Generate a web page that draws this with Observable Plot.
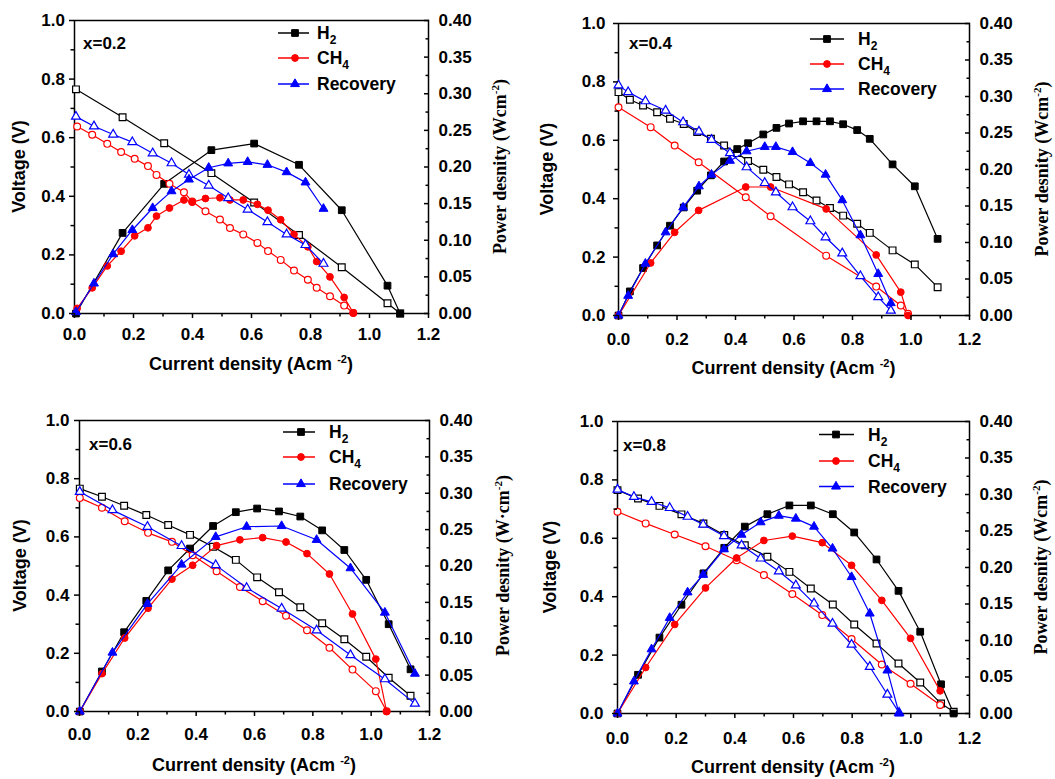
<!DOCTYPE html>
<html><head><meta charset="utf-8">
<script src="https://cdn.jsdelivr.net/npm/d3@7"></script>
<script src="https://cdn.jsdelivr.net/npm/@observablehq/plot@0.6"></script>
<style>
body{margin:0;background:#fff;}
#wrap{position:relative;width:1055px;height:779px;overflow:hidden;background:#fff;}
.panel{position:absolute;}
</style></head><body><div id="wrap"></div>
<script>
// ---------- tick values ----------
const xMajor = [0, 0.2, 0.4, 0.6, 0.8, 1.0, 1.2];
const xMinor = [0.1, 0.3, 0.5, 0.7, 0.9, 1.1];
const vMajor = [0, 0.2, 0.4, 0.6, 0.8, 1.0];
const vMinor = [0.1, 0.3, 0.5, 0.7, 0.9];
const pMajor = [0, 0.05, 0.10, 0.15, 0.20, 0.25, 0.30, 0.35, 0.40];
const pMinor = [0.025, 0.075, 0.125, 0.175, 0.225, 0.275, 0.325, 0.375];
const PMAX = 0.40;

const panelLabels = ["x=0.2", "x=0.4", "x=0.6", "x=0.8"];
const seriesNames = ["H2", "CH4", "Recovery"];

// ---------- panel 1 (x=0.2) ----------
const p1_H2_I = [0.005,0.163,0.304,0.464,0.609,0.761,0.906,1.061,1.104];
const p1_H2_V = [0.765,0.670,0.581,0.479,0.379,0.268,0.158,0.035,0.000];
const p1_H2_P = [0.000,0.110,0.177,0.223,0.232,0.203,0.141,0.038,0.000];
const p1_CH4_I = [0.009,0.060,0.111,0.158,0.204,0.249,0.278,0.322,0.371,0.399,0.444,0.493,0.527,0.572,0.620,0.656,0.699,0.744,0.791,0.821,0.866,0.914,0.945];
const p1_CH4_V = [0.638,0.610,0.579,0.551,0.528,0.503,0.473,0.443,0.414,0.382,0.349,0.321,0.292,0.270,0.241,0.213,0.183,0.147,0.115,0.088,0.059,0.027,0.002];
const p1_CH4_P = [0.007,0.035,0.065,0.085,0.106,0.117,0.133,0.144,0.155,0.152,0.157,0.158,0.155,0.155,0.149,0.141,0.128,0.108,0.091,0.071,0.050,0.022,0.001];
const p1_Rec_I = [0.005,0.066,0.131,0.196,0.265,0.329,0.388,0.455,0.521,0.587,0.654,0.719,0.783,0.844];
const p1_Rec_V = [0.672,0.639,0.611,0.585,0.547,0.513,0.474,0.437,0.394,0.355,0.312,0.270,0.234,0.170];
const p1_Rec_P = [0.002,0.041,0.081,0.114,0.144,0.167,0.183,0.199,0.205,0.207,0.203,0.193,0.179,0.143];

// ---------- panel 2 (x=0.4) ----------
const p2_H2_I = [0,0.039,0.084,0.132,0.176,0.223,0.269,0.316,0.361,0.406,0.443,0.495,0.540,0.583,0.631,0.677,0.723,0.768,0.816,0.859,0.937,1.013,1.091];
const p2_H2_V = [0.765,0.739,0.719,0.696,0.674,0.656,0.628,0.605,0.582,0.556,0.529,0.499,0.474,0.449,0.422,0.394,0.368,0.342,0.314,0.283,0.223,0.175,0.097];
const p2_H2_P = [0,0.033,0.065,0.096,0.123,0.148,0.171,0.192,0.211,0.228,0.236,0.248,0.257,0.263,0.266,0.266,0.266,0.262,0.254,0.242,0.207,0.177,0.105];
const p2_CH4_I = [0,0.110,0.192,0.274,0.435,0.520,0.710,0.881,0.965,0.990];
const p2_CH4_V = [0.713,0.645,0.582,0.525,0.405,0.340,0.205,0.099,0.034,0.006];
const p2_CH4_P = [0,0.072,0.114,0.144,0.176,0.176,0.146,0.083,0.032,0];
const p2_Rec_I = [0,0.033,0.092,0.161,0.221,0.275,0.318,0.381,0.438,0.500,0.538,0.595,0.656,0.708,0.765,0.827,0.888,0.931];
const p2_Rec_V = [0.788,0.765,0.734,0.702,0.662,0.630,0.602,0.556,0.508,0.454,0.422,0.371,0.323,0.268,0.213,0.135,0.063,0.017];
const p2_Rec_P = [0,0.027,0.071,0.114,0.148,0.177,0.193,0.212,0.225,0.231,0.231,0.224,0.209,0.193,0.158,0.110,0.057,0.017];

// ---------- panel 3 (x=0.6) ----------
const p3_H2_I = [0.001,0.077,0.153,0.229,0.304,0.379,0.458,0.536,0.609,0.684,0.757,0.832,0.908,0.983,1.060,1.135];
const p3_H2_V = [0.766,0.738,0.707,0.675,0.641,0.607,0.566,0.521,0.461,0.410,0.358,0.303,0.248,0.188,0.116,0.054];
const p3_H2_P = [0,0.055,0.109,0.152,0.194,0.224,0.255,0.274,0.279,0.275,0.268,0.249,0.222,0.181,0.120,0.058];
const p3_CH4_I = [0.001,0.077,0.155,0.235,0.317,0.388,0.470,0.550,0.628,0.708,0.780,0.857,0.936,1.016,1.053];
const p3_CH4_V = [0.734,0.700,0.654,0.614,0.583,0.537,0.482,0.428,0.379,0.329,0.279,0.219,0.144,0.070,0.001];
const p3_CH4_P = [0,0.052,0.101,0.142,0.182,0.201,0.228,0.236,0.239,0.233,0.217,0.189,0.134,0.072,0];
const p3_Rec_I = [0.001,0.113,0.233,0.350,0.467,0.573,0.693,0.813,0.929,1.047,1.150];
const p3_Rec_V = [0.755,0.692,0.635,0.569,0.503,0.425,0.354,0.279,0.194,0.111,0.027];
const p3_Rec_P = [0,0.081,0.148,0.202,0.240,0.254,0.255,0.236,0.197,0.136,0.052];

// ---------- panel 4 (x=0.8) ----------
const p4_H2_I = [0,0.070,0.143,0.218,0.293,0.364,0.434,0.511,0.586,0.659,0.734,0.807,0.883,0.958,1.032,1.103,1.146];
const p4_H2_V = [0.765,0.736,0.711,0.682,0.651,0.611,0.576,0.537,0.485,0.428,0.373,0.305,0.240,0.171,0.106,0.034,0.006];
const p4_H2_P = [0,0.053,0.104,0.149,0.192,0.227,0.256,0.273,0.285,0.285,0.273,0.248,0.211,0.168,0.112,0.040,0];
const p4_CH4_I = [0,0.096,0.195,0.300,0.406,0.499,0.596,0.698,0.798,0.901,0.999,1.100];
const p4_CH4_V = [0.691,0.651,0.613,0.573,0.525,0.474,0.409,0.337,0.255,0.168,0.102,0.029];
const p4_CH4_P = [0,0.063,0.122,0.172,0.213,0.237,0.243,0.234,0.203,0.155,0.103,0.031];
const p4_Rec_I = [0,0.056,0.116,0.178,0.239,0.292,0.363,0.423,0.488,0.550,0.608,0.670,0.733,0.798,0.860,0.920,0.960];
const p4_Rec_V = [0.767,0.742,0.725,0.704,0.674,0.647,0.608,0.576,0.531,0.487,0.439,0.377,0.308,0.236,0.160,0.065,0.003];
const p4_Rec_P = [0,0.044,0.088,0.131,0.166,0.190,0.225,0.245,0.262,0.271,0.267,0.256,0.226,0.187,0.137,0.059,0];

const powerUnits = ["Wcm", "Wcm", "W\u00B7cm", "Wcm"];

// ---------- build tables ----------
function rows(I, V, P) { return I.map((x, i) => ({I: x, V: V[i], P: P[i]})); }
const panelData = [
  {H2: rows(p1_H2_I,p1_H2_V,p1_H2_P), CH4: rows(p1_CH4_I,p1_CH4_V,p1_CH4_P), Recovery: rows(p1_Rec_I,p1_Rec_V,p1_Rec_P)},
  {H2: rows(p2_H2_I,p2_H2_V,p2_H2_P), CH4: rows(p2_CH4_I,p2_CH4_V,p2_CH4_P), Recovery: rows(p2_Rec_I,p2_Rec_V,p2_Rec_P)},
  {H2: rows(p3_H2_I,p3_H2_V,p3_H2_P), CH4: rows(p3_CH4_I,p3_CH4_V,p3_CH4_P), Recovery: rows(p3_Rec_I,p3_Rec_V,p3_Rec_P)},
  {H2: rows(p4_H2_I,p4_H2_V,p4_H2_P), CH4: rows(p4_CH4_I,p4_CH4_V,p4_CH4_P), Recovery: rows(p4_Rec_I,p4_Rec_V,p4_Rec_P)}
];

// ---------- styles & layout ----------
const styleMap = {
  H2: {color: "#000000", symbol: "square", r: 3.8, parts: [["H", ""], ["2", "sub"]]},
  CH4: {color: "#ff0000", symbol: "circle", r: 3.4, parts: [["CH", ""], ["4", "sub"]]},
  Recovery: {color: "#0000ff", symbol: "triangle", r: 3.3, parts: [["Recovery", ""]]}
};
const d3Sym = {square: d3.symbolSquare, circle: d3.symbolCircle, triangle: d3.symbolTriangle};

const layouts = [
  {left: 0, top: 0, w: 528, h: 390, mL: 74, mT: 20, pw: 354, ph: 293, xPad: 9, yPad: 4.5,
   voltX: 19, powX: 500, curY: 364, rows: [13, 38, 64], line: [204, 235], mark: 221, text: 243, lab: [9, 29]},
  {left: 528, top: 0, w: 527, h: 390, mL: 90, mT: 23, pw: 351, ph: 292, xPad: 12, yPad: 8,
   voltX: 547, powX: 1042, curY: 368, rows: [16, 41, 66], line: [192, 226], mark: 209, text: 240, lab: [11, 26]},
  {left: 0, top: 390, w: 528, h: 389, mL: 79, mT: 30, pw: 350, ph: 291, xPad: 11, yPad: 5,
   voltX: 20, powX: 503, curY: 765, rows: [12, 37, 64], line: [204, 236], mark: 222, text: 250, lab: [10, 30]},
  {left: 528, top: 390, w: 527, h: 389, mL: 89, mT: 31, pw: 352, ph: 292, xPad: 13, yPad: 9,
   voltX: 550, powX: 1041, curY: 767, rows: [13.5, 40, 65.5], line: [202, 237], mark: 219, text: 251, lab: [6, 30]}
];

const SANS = "'Liberation Sans', Arial, Helvetica, sans-serif";
const SERIF = "'Liberation Serif', 'Times New Roman', serif";
const wrap = document.getElementById("wrap");

panelData.forEach((pd, k) => {
  const L = layouts[k];
  const marks = [Plot.frame({stroke: "black", strokeWidth: 1.5})];
  for (const name of seriesNames) {
    const st = styleMap[name];
    const d = pd[name];
    marks.push(
      Plot.line(d, {x: "I", y: "V", stroke: st.color, strokeWidth: 1.2}),
      Plot.line(d, {x: "I", y: r => r.P / PMAX, stroke: st.color, strokeWidth: 1.2}),
      Plot.dot(d, {x: "I", y: "V", symbol: st.symbol, r: st.r, stroke: st.color, fill: "white", strokeWidth: 1.2}),
      Plot.dot(d, {x: "I", y: r => r.P / PMAX, symbol: st.symbol, r: st.r, stroke: st.color, fill: st.color, strokeWidth: 1})
    );
  }
  marks.push(
    Plot.axisX(xMajor, {anchor: "bottom", tickSize: 5, tickPadding: L.xPad, strokeWidth: 1.5, tickFormat: d => d.toFixed(1), label: null, fontSize: 17, fontWeight: "bold", fill: "black", stroke: "black"}),
    Plot.axisX(xMinor, {anchor: "bottom", tickSize: 3.5, strokeWidth: 1.5, stroke: "black", fill: "none", label: null}),
    Plot.axisY(vMajor, {anchor: "left", tickSize: 5, tickPadding: L.yPad, strokeWidth: 1.5, tickFormat: d => d.toFixed(1), label: null, fontSize: 17, fontWeight: "bold", fill: "black", stroke: "black"}),
    Plot.axisY(vMinor, {anchor: "left", tickSize: 3.5, strokeWidth: 1.5, stroke: "black", fill: "none", label: null}),
    Plot.axisY(pMajor.map(p => p / PMAX), {anchor: "right", tickSize: 5, insetRight: 5, strokeWidth: 1.5, stroke: "black", fill: "none", label: null}),
    Plot.axisY(pMinor.map(p => p / PMAX), {anchor: "right", tickSize: 3.5, insetRight: 3.5, strokeWidth: 1.5, stroke: "black", fill: "none", label: null}),
    Plot.axisY(pMajor.map(p => p / PMAX), {anchor: "right", tickSize: 0, tickPadding: 10, tickFormat: v => (v * PMAX).toFixed(2), label: null, fontSize: 17, fontWeight: "bold", fill: "black"})
  );

  const svgNode = Plot.plot({
    width: L.w, height: L.h,
    marginLeft: L.mL, marginTop: L.mT,
    marginRight: L.w - L.mL - L.pw, marginBottom: L.h - L.mT - L.ph,
    x: {domain: [0, 1.2]},
    y: {domain: [0, 1]},
    style: {fontFamily: SANS, fontSize: "17px", fontWeight: "bold", color: "black", background: "transparent", overflow: "visible"},
    marks
  });
  const div = document.createElement("div");
  div.className = "panel";
  div.style.left = L.left + "px";
  div.style.top = L.top + "px";
  div.appendChild(svgNode);
  wrap.appendChild(div);

  const svg = d3.select(svgNode);
  // in-plot annotations
  const g = svg.append("g").attr("transform", `translate(${L.mL},${L.mT})`).attr("text-anchor", "start");
  g.append("text").attr("x", L.lab[0]).attr("y", L.lab[1]).attr("text-anchor", "start")
    .attr("font-family", SANS).attr("font-size", 17).attr("font-weight", "bold").attr("fill", "black")
    .text(panelLabels[k]);

  seriesNames.forEach((name, i) => {
    const st = styleMap[name];
    const y = L.rows[i];
    g.append("line").attr("x1", L.line[0]).attr("x2", L.line[1]).attr("y1", y).attr("y2", y)
      .attr("stroke", st.color).attr("stroke-width", 1.5);
    g.append("path").attr("transform", `translate(${L.mark},${y})`)
      .attr("d", d3.symbol(d3Sym[st.symbol], Math.PI * st.r * st.r)())
      .attr("fill", st.color).attr("stroke", st.color);
    const t = g.append("text").attr("x", L.text).attr("y", y).attr("dy", "0.36em").attr("text-anchor", "start")
      .attr("font-family", SANS).attr("font-size", 17.5).attr("font-weight", "bold").attr("fill", "black");
    st.parts.forEach(([s, kind]) => {
      const ts = t.append("tspan").text(s);
      if (kind === "sub") ts.attr("font-size", 12).attr("dy", 5);
    });
  });

  // axis titles (absolute coords converted to local)
  const vx = L.voltX - L.left, cy = L.mT + L.ph / 2;
  svg.append("text").attr("transform", `translate(${vx},${cy}) rotate(-90)`)
    .attr("text-anchor", "middle").attr("dy", "0.36em")
    .attr("font-family", SANS).attr("font-size", 18).attr("font-weight", "bold").attr("fill", "black")
    .text("Voltage (V)");

  const px = L.powX - L.left;
  const pt = svg.append("text").attr("transform", `translate(${px},${cy}) rotate(-90)`)
    .attr("text-anchor", "middle").attr("dy", "0.36em")
    .attr("font-family", SERIF).attr("font-size", 18).attr("font-weight", "bold").attr("fill", "black");
  pt.append("tspan").text("Power desnity (" + powerUnits[k]);
  pt.append("tspan").text("-2").attr("font-size", 11).attr("dy", -7);
  pt.append("tspan").text(")").attr("dy", 7);

  const cx = L.mL + L.pw / 2, cyb = L.curY - L.top;
  const ct = svg.append("text").attr("x", cx).attr("y", cyb).attr("text-anchor", "middle").attr("dy", "0.36em")
    .attr("font-family", SANS).attr("font-size", 18).attr("font-weight", "bold").attr("fill", "black");
  ct.append("tspan").text("Current density (Acm ");
  ct.append("tspan").text("-2").attr("font-size", 11).attr("dy", -7);
  ct.append("tspan").text(")").attr("dy", 7);
});
</script>
</body></html>
